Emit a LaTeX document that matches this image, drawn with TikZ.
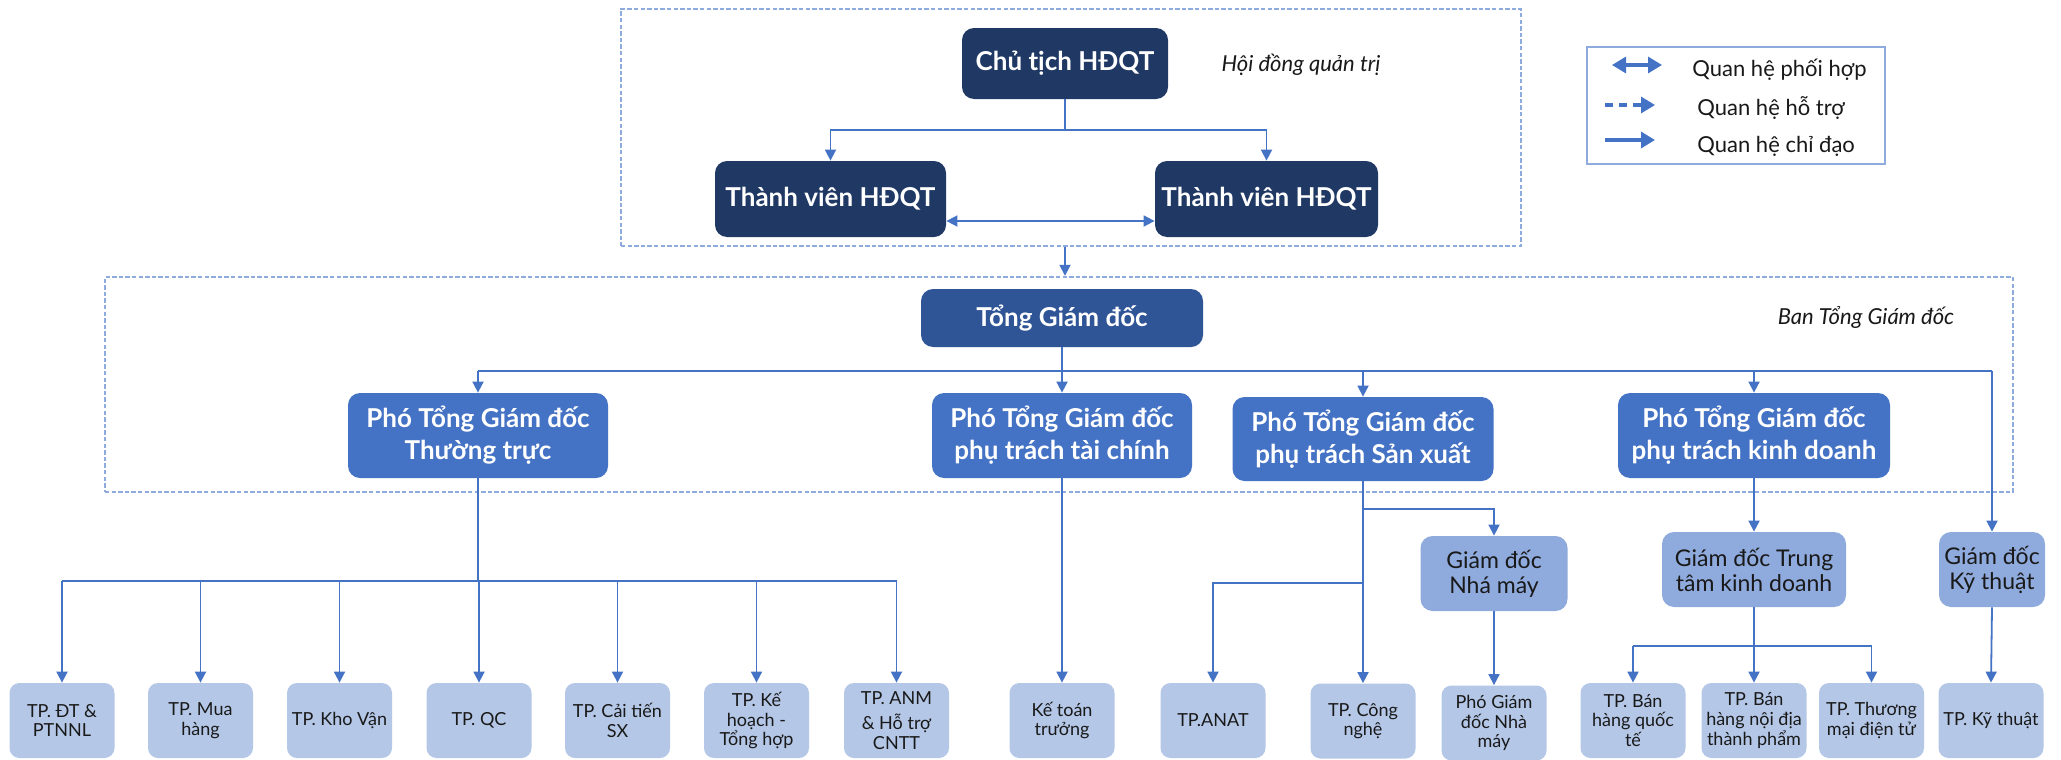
\documentclass[tikz,border=0pt]{standalone}
\usepackage{fontspec}
\setmainfont{Lato}
\usetikzlibrary{arrows.meta}
\definecolor{navy}{RGB}{32,56,100}
\definecolor{tgdc}{RGB}{47,85,151}
\definecolor{ptc}{RGB}{68,114,196}
\definecolor{midc}{RGB}{143,170,220}
\definecolor{lightc}{RGB}{180,199,231}
\definecolor{linec}{RGB}{68,114,196}
\definecolor{dashc}{RGB}{143,170,220}
\definecolor{txt}{RGB}{25,25,25}
\begin{document}
\begin{tikzpicture}[x=0.5pt,y=-0.5pt,
  boxbase/.style={rounded corners=6pt, inner sep=0pt, align=center},
  bigfont/.style={font=\fontsize{13}{16}\selectfont\bfseries},
  navybox/.style={boxbase, bigfont, fill=navy, text=white, minimum height=38pt},
  tgdbox/.style={boxbase, bigfont, fill=tgdc, text=white},
  ptbox/.style={boxbase, bigfont, fill=ptc, text=white, minimum height=42.5pt},
  midbox/.style={boxbase, fill=midc, text=txt, minimum height=37.5pt, font=\fontsize{11.5}{12.5}\selectfont},
  lowbox/.style={boxbase, rounded corners=5pt, fill=lightc, text=txt, minimum width=52.5pt, minimum height=37.5pt, font=\fontsize{9}{9.8}\selectfont},
  dashbox/.style={draw=dashc, line width=1.2pt, dash pattern=on 2.2pt off 1.1pt, inner sep=0pt},
  conn/.style={draw=linec, line width=0.9pt},
  arr/.style={conn, -{Triangle[length=5.5pt,width=5.5pt]}},
  darr/.style={conn, {Triangle[length=5.5pt,width=5.5pt]}-{Triangle[length=5.5pt,width=5.5pt]}},
  labeltext/.style={inner sep=0pt, text=txt, font=\fontsize{11}{13}\selectfont\itshape},
  legtext/.style={inner sep=0pt, anchor=west, text=txt, font=\fontsize{11}{13}\selectfont},
  legline/.style={draw=linec, line width=1.6pt}
]
\fill[white] (0,0) rectangle (2061,760);
\useasboundingbox (0,0) rectangle (2061,760);

% group frames
\node[dashbox, minimum width=450pt, minimum height=118.5pt] (hdqt) at (1071,127.5) {};
\node[dashbox, minimum width=954pt, minimum height=107.5pt] (btgd) at (1059,384.5) {};
\node[labeltext] (lblhd) at (1301,65) {Hội đồng quản trị};
\node[labeltext] (lblbt) at (1866,317) {Ban Tổng Giám đốc};

% legend
\node[draw=dashc, line width=1.3pt, minimum width=149pt, minimum height=58.5pt, inner sep=0pt] (legend) at (1736,105.5) {};
\coordinate (la1) at (1612,65); \coordinate (la2) at (1662,65);
\coordinate (lb1) at (1605,105); \coordinate (lb2) at (1655,105);
\coordinate (lc1) at (1605,140); \coordinate (lc2) at (1655,140);
\draw[legline, {Triangle[length=7pt,width=8pt]}-{Triangle[length=7pt,width=8pt]}] (la1) -- (la2);
\draw[legline, dash pattern=on 4pt off 3pt, -{Triangle[length=7pt,width=8pt]}] (lb1) -- (lb2);
\draw[legline, -{Triangle[length=7pt,width=8pt]}] (lc1) -- (lc2);
\node[legtext] (lt1) at (1692,70) {Quan hệ phối hợp};
\node[legtext] (lt2) at (1697,108) {Quan hệ hỗ trợ};
\node[legtext] (lt3) at (1697,146) {Quan hệ chỉ đạo};

% board
\node[navybox, minimum width=103pt, minimum height=35.5pt] (chu) at (1065,63.5) {Chủ tịch HĐQT};
\node[navybox, minimum width=115.5pt] (tv1) at (830.5,199) {Thành viên HĐQT};
\node[navybox, minimum width=111.5pt] (tv2) at (1266.5,199) {Thành viên HĐQT};

% executives
\node[tgdbox, minimum width=141pt, minimum height=29pt] (tgd) at (1062,318) {Tổng Giám đốc};
\node[ptbox, minimum width=130pt] (pt1) at (478,435.5) {Phó Tổng Giám đốc\\Thường trực};
\node[ptbox, minimum width=130pt] (pt2) at (1062,435.5) {Phó Tổng Giám đốc\\phụ trách tài chính};
\node[ptbox, minimum width=130.5pt, minimum height=42pt] (pt3) at (1363,439) {Phó Tổng Giám đốc\\phụ trách Sản xuất};
\node[ptbox, minimum width=136pt] (pt4) at (1754,435.5) {Phó Tổng Giám đốc\\phụ trách kinh doanh};

% directors
\node[midbox, minimum width=73.5pt] (gdnm) at (1494,573.5) {Giám đốc\\Nhá máy};
\node[midbox, minimum width=92pt] (gdkd) at (1754,569.5) {Giám đốc Trung\\tâm kinh doanh};
\node[midbox, minimum width=53pt] (gdkt) at (1992,569.5) {Giám đốc\\Kỹ thuật};

% departments
\node[lowbox] (b1) at (62,720.5) {TP. ĐT \&\\PTNNL};
\node[lowbox] (b2) at (200.5,720.5) {TP. Mua\\hàng};
\node[lowbox] (b3) at (339.5,720.5) {TP. Kho Vận};
\node[lowbox] (b4) at (479,720.5) {TP. QC};
\node[lowbox] (b5) at (617.5,720.5) {TP. Cải tiến\\SX};
\node[lowbox] (b6) at (756.5,720.5) {TP. Kế\\hoạch -\\Tổng hợp};
\node[lowbox] (b7) at (896.5,720.5) {TP. ANM\\[3pt]\& Hỗ trợ\\CNTT};
\node[lowbox] (b8) at (1062,720.5) {Kế toán\\trưởng};
\node[lowbox] (b9) at (1213,720.5) {TP.ANAT};
\node[lowbox] (b10) at (1363,721) {TP. Công\\nghệ};
\node[lowbox] (b11) at (1494,723) {Phó Giám\\đốc Nhà\\máy};
\node[lowbox] (b12) at (1633,720.5) {TP. Bán\\hàng quốc\\tế};
\node[lowbox] (b13) at (1754,720.5) {TP. Bán\\hàng nội địa\\thành phẩm};
\node[lowbox] (b14) at (1871.5,720.5) {TP. Thương\\mại điện tử};
\node[lowbox] (b15) at (1991,720.5) {TP. Kỹ thuật};

% board connectors
\coordinate (j0) at (1065,130);
\draw[conn] (chu.south) -- (j0);
\draw[arr] (j0) -| (tv1.north);
\draw[arr] (j0) -| (tv2.north);
\draw[darr] ([yshift=-11pt]tv1.east) -- ([yshift=-11pt]tv2.west);
\draw[arr] (hdqt.south -| chu.south) -- (btgd.north -| chu.south);

% executive bus
\coordinate (bus1) at (1062,371);
\draw[arr] (tgd.south) -- (pt2.north);
\draw[conn] (pt1.north |- bus1) -- (gdkt.north |- bus1);
\draw[arr] (pt1.north |- bus1) -- (pt1.north);
\draw[arr] (pt3.north |- bus1) -- (pt3.north);
\draw[arr] (pt4.north |- bus1) -- (pt4.north);
\draw[arr] (gdkt.north |- bus1) -- (gdkt.north);

% Thuong truc bus
\coordinate (bus2) at (478,581);
\draw[conn] (pt1.south) -- (pt1.south |- bus2);
\draw[conn] (b1.north |- bus2) -- (b7.north |- bus2);
\foreach \b in {b1,b2,b3,b4,b5,b6,b7}{
  \draw[arr] (\b.north |- bus2) -- (\b.north);
}

% finance
\draw[arr] (pt2.south) -- (b8.north);

% production
\coordinate (j3a) at (1363,509);
\coordinate (j3b) at (1363,583);
\draw[arr] (pt3.south) -- (b10.north);
\draw[arr] (j3a) -| (gdnm.north);
\draw[arr] (j3b) -| (b9.north);
\draw[arr] (gdnm.south) -- (b11.north);

% sales
\coordinate (bus3) at (1754,646);
\draw[arr] (pt4.south) -- (gdkd.north);
\draw[arr] (gdkd.south) -- (b13.north);
\draw[conn] (b12.north |- bus3) -- (b14.north |- bus3);
\draw[arr] (b12.north |- bus3) -- (b12.north);
\draw[arr] (b14.north |- bus3) -- (b14.north);

% technical
\draw[arr] (gdkt.south) -- (b15.north);
\end{tikzpicture}
\end{document}
